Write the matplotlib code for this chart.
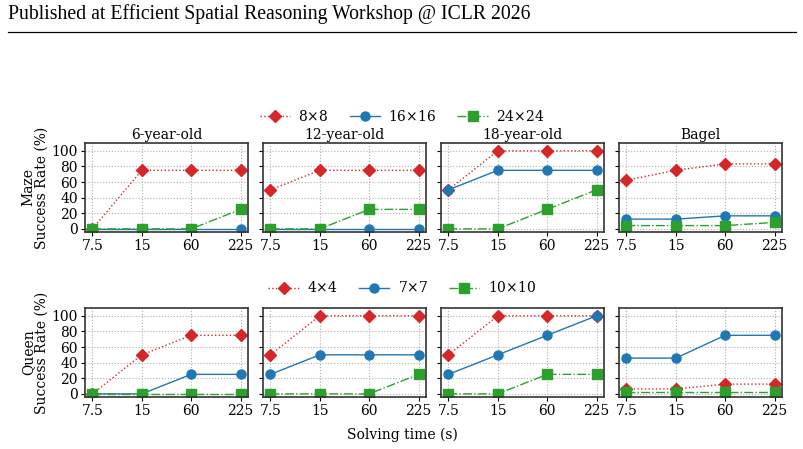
import matplotlib
matplotlib.use('Agg')
import matplotlib.pyplot as plt

plt.rcParams['font.family'] = ['DejaVu Serif']
plt.rcParams['font.size'] = 10
plt.rcParams['mathtext.fontset'] = 'dejavuserif'

times = ['7.5', '15', '60', '225']
agents = ['6-year-old', '12-year-old', '18-year-old', 'Bagel']

maze_sizes = ['8$\\times$8', '16$\\times$16', '24$\\times$24']
maze_small = [[0, 75, 75, 75], [50, 75, 75, 75], [50, 100, 100, 100], [62.5, 75, 83.3, 83.3]]
maze_mid = [[0, 0, 0, 0], [0, 0, 0, 0], [50, 75, 75, 75], [12.5, 12.5, 16.7, 16.7]]
maze_large = [[0, 0, 0, 25], [0, 0, 25, 25], [0, 0, 25, 50], [4.2, 4.2, 4.2, 8.3]]

queen_sizes = ['4$\\times$4', '7$\\times$7', '10$\\times$10']
queen_small = [[0, 50, 75, 75], [50, 100, 100, 100], [50, 100, 100, 100], [6.3, 6.3, 12.5, 12.5]]
queen_mid = [[0, 0, 25, 25], [25, 50, 50, 50], [25, 50, 75, 100], [45.8, 45.8, 75, 75]]
queen_large = [[0, 0, 0, 0], [0, 0, 0, 25], [0, 0, 25, 25], [2.1, 2.1, 2.1, 2.1]]

styles = [
    dict(color='tab:red', marker='D', linestyle=':', markersize=6.5),
    dict(color='tab:blue', marker='o', linestyle='-', markersize=6.5),
    dict(color='tab:green', marker='s', linestyle='-.', markersize=6.5),
]

W, H = 804, 449
fig = plt.figure(figsize=(W / 100, H / 100), dpi=100)

# page header
fig.text(8 / W, 1 - 19 / H, 'Published at Efficient Spatial Reasoning Workshop @ ICLR 2026',
         family='Liberation Serif', fontsize=14.2, va='baseline', ha='left')
fig.add_artist(plt.Line2D([8 / W, 796 / W], [1 - 32 / H, 1 - 32 / H], color='black', lw=0.9))

lefts = [85, 263, 441, 619]
rows = [
    ('Maze', [maze_small, maze_mid, maze_large], maze_sizes, 232, 116),
    ('Queen', [queen_small, queen_mid, queen_large], queen_sizes, 397, 288),
]

x = list(range(len(times)))
for r, (task, series, sizes, bottom_px, leg_y) in enumerate(rows):
    handles = []
    for i, name in enumerate(agents):
        ax = fig.add_axes([lefts[i] / W, 1 - bottom_px / H, 163 / W, 89 / H])
        for s in range(3):
            h, = ax.plot(x, series[s][i], lw=1, label=sizes[s], **styles[s])
            if i == 0:
                handles.append(h)
        ax.set_xlim(-0.15, 3.15)
        ax.set_ylim(-4, 110)
        ax.set_xticks(x)
        ax.set_xticklabels(times)
        ax.set_yticks([0, 20, 40, 60, 80, 100])
        ax.grid(True, linestyle=':', color='#b0b0b0', lw=0.8)
        ax.tick_params(length=3, pad=2, labelsize=10)
        for sp in ax.spines.values():
            sp.set_color('#333333')
            sp.set_linewidth(1.2)
        if i == 0:
            ax.set_ylabel(task + '\nSuccess Rate (%)', labelpad=2, linespacing=1.0)
        else:
            ax.set_yticklabels([])
        if r == 0:
            ax.set_title(name, fontsize=10, pad=3)
    fig.legend(handles=handles, loc='center', bbox_to_anchor=(0.5, 1 - leg_y / H),
               ncol=3, frameon=False, fontsize=10, handlelength=2.2, columnspacing=1.5,
               handletextpad=0.6, borderaxespad=0)

fig.text(0.5, 1 - 435 / H, 'Solving time (s)', ha='center', va='center', fontsize=10)

fig.savefig('out.png', dpi=100)
